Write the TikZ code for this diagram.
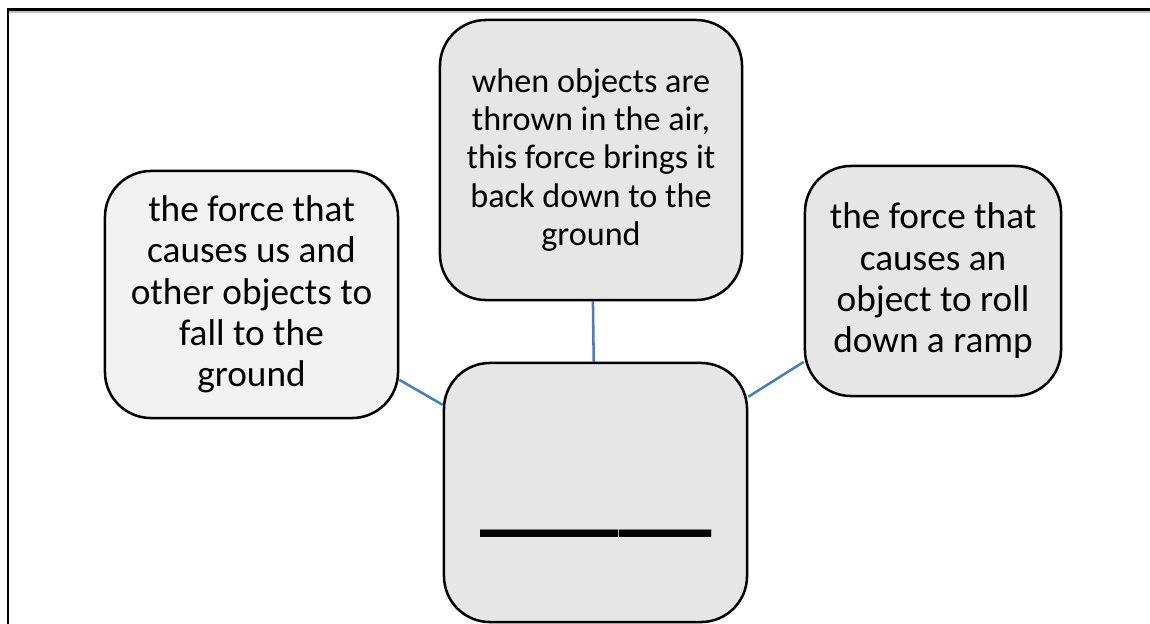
\documentclass[tikz,border=0pt]{standalone}
\usepackage{fontspec}
\setmainfont{Carlito}
\usepackage{tikz}
\usetikzlibrary{positioning}
\pgfdeclarelayer{background}
\pgfdeclarelayer{foreground}
\pgfsetlayers{background,main,foreground}
\definecolor{linkblue}{RGB}{74,126,187}
\definecolor{boxgray}{RGB}{230,230,230}
\definecolor{boxlight}{RGB}{242,242,242}

\begin{document}
\begin{tikzpicture}[x=0.025cm,y=-0.025cm,
						forcebox/.style={rectangle, rounded corners=1.15cm, draw=black, line width=1.8pt, fill=boxgray, align=center, inner sep=0pt, font=\fontsize{26.5}{29.4}\selectfont},
						link/.style={draw=linkblue, line width=1.8pt},
						]
						\useasboundingbox (0,0) rectangle (1150,624);
						%Frame
						\draw[black!25, line width=1pt] (9,12) -- (1150,12);
						\draw[black, line width=1.5pt] (8,624) -- (8,9.5) -- (1150,9.5);
						%Nodes
						\node[forcebox, fill=boxlight, minimum width=7.325cm, minimum height=6.175cm] (fall) 	at	(251.5,294.5)	{the force that\\causes us and\\other objects to\\fall to the\\ground};
						\node[forcebox, minimum width=7.55cm, minimum height=7cm, font=\fontsize{24.3}{27.2}\selectfont] (thrown) 	at	(591,160)	{when objects are\\thrown in the air,\\this force brings it\\back down to the\\ground};
						\node[forcebox, minimum width=6.4cm, minimum height=5.75cm] (ramp) 	at	(933,281)	{the force that\\causes an\\object to roll\\down a ramp};
						\node[forcebox, minimum width=7.575cm, minimum height=6.475cm] (answer) 	at	(595.5,492.5)	{};
						\node[anchor=base, inner sep=0pt, font=\fontsize{66}{66}\selectfont\bfseries] (blank) 	at	(596,524.5)	{\_\_\_\_\_};

						\begin{pgfonlayer}{background}
						\draw[link] (thrown) -- (answer);
						\draw[link] (fall) -- (answer);
						\draw[link] (ramp) -- (answer);
						\end{pgfonlayer}
					\end{tikzpicture}
\end{document}
